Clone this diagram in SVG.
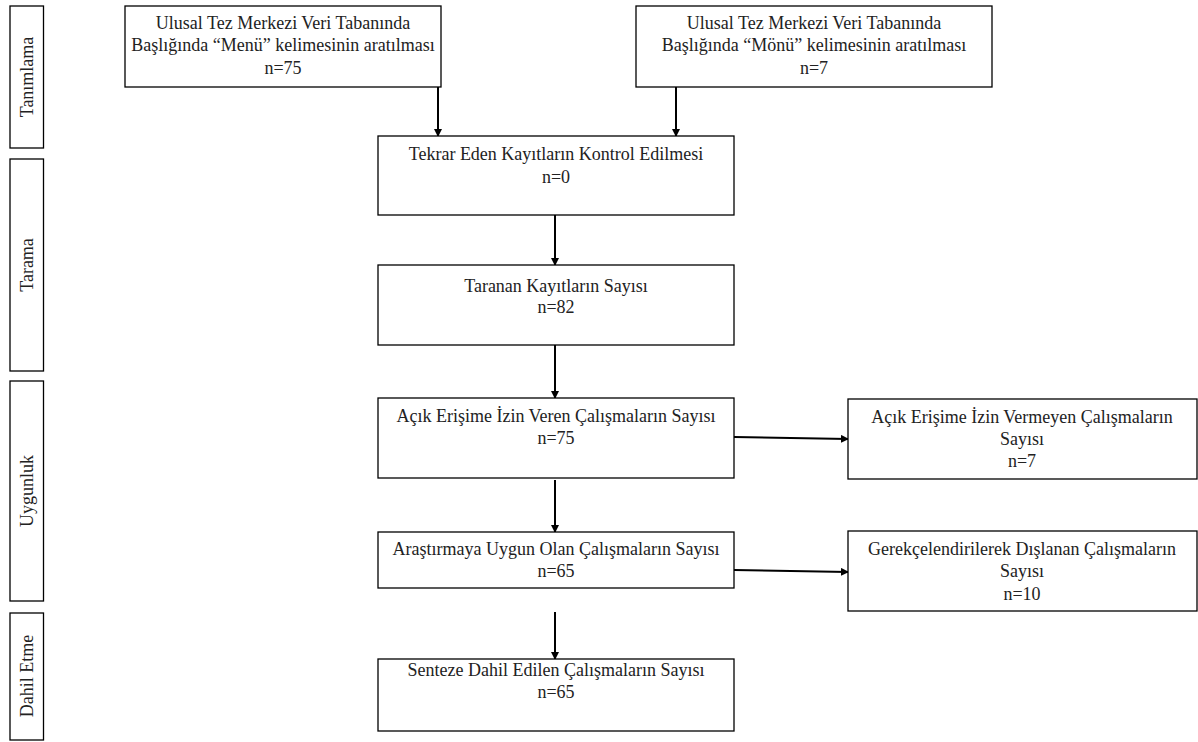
<svg xmlns="http://www.w3.org/2000/svg" width="1198" height="742" viewBox="0 0 1198 742">
<defs>
<marker id="ah" markerWidth="8" markerHeight="8" refX="7" refY="4" orient="auto" markerUnits="userSpaceOnUse">
<path d="M0,0 L8,4 L0,8 Z" fill="#000"/>
</marker>
<style>
.box{fill:#fff;stroke:#000;stroke-width:1.3}
.t{font-family:"Liberation Serif","DejaVu Serif",serif;font-size:18px;fill:#222;text-anchor:middle}
.c{stroke:#000;stroke-width:2;fill:none;marker-end:url(#ah)}
</style>
</defs>
<rect width="1198" height="742" fill="#fff"/>
<g id="phase-tanimlama"><rect class="box" x="10" y="6" width="33.5" height="142"/><text class="t" transform="translate(33,77) rotate(-90)">Tanımlama</text></g>
<g id="phase-tarama"><rect class="box" x="10" y="159" width="33.5" height="212"/><text class="t" transform="translate(33,265) rotate(-90)">Tarama</text></g>
<g id="phase-uygunluk"><rect class="box" x="10" y="381" width="33.5" height="220"/><text class="t" transform="translate(33,491) rotate(-90)">Uygunluk</text></g>
<g id="phase-dahil"><rect class="box" x="10" y="613" width="33.5" height="127"/><text class="t" transform="translate(33,676) rotate(-90)">Dahil Etme</text></g>

<g id="connectors">
<line class="c" x1="438" y1="87" x2="438" y2="136"/>
<line class="c" x1="676" y1="87" x2="676" y2="136"/>
<line class="c" x1="555" y1="215" x2="555" y2="265"/>
<line class="c" x1="555" y1="345" x2="555" y2="398"/>
<line class="c" x1="555" y1="480" x2="555" y2="532"/>
<line class="c" x1="555" y1="612" x2="555" y2="659"/>
<line class="c" x1="734" y1="437" x2="848" y2="439"/>
<line class="c" x1="734" y1="570" x2="848" y2="572"/>
</g>

<g id="n-menu"><rect class="box" x="125" y="6" width="316" height="81"/>
<text class="t" x="283" y="29">Ulusal Tez Merkezi Veri Tabanında</text>
<text class="t" x="283" y="51">Başlığında “Menü” kelimesinin aratılması</text>
<text class="t" x="283" y="74">n=75</text></g>
<g id="n-monu"><rect class="box" x="636" y="6" width="356" height="81"/>
<text class="t" x="814" y="29">Ulusal Tez Merkezi Veri Tabanında</text>
<text class="t" x="814" y="51">Başlığında “Mönü” kelimesinin aratılması</text>
<text class="t" x="814" y="74">n=7</text></g>
<g id="n-tekrar"><rect class="box" x="378" y="136" width="356" height="79"/>
<text class="t" x="556" y="160">Tekrar Eden Kayıtların Kontrol Edilmesi</text>
<text class="t" x="556" y="183">n=0</text></g>
<g id="n-taranan"><rect class="box" x="378" y="265" width="356" height="80"/>
<text class="t" x="556" y="292">Taranan Kayıtların Sayısı</text>
<text class="t" x="556" y="313">n=82</text></g>
<g id="n-acik"><rect class="box" x="378" y="398" width="356" height="80"/>
<text class="t" x="556" y="422">Açık Erişime İzin Veren Çalışmaların Sayısı</text>
<text class="t" x="556" y="444">n=75</text></g>
<g id="n-acik-degil"><rect class="box" x="848" y="399" width="349" height="80"/>
<text class="t" x="1022" y="423">Açık Erişime İzin Vermeyen Çalışmaların</text>
<text class="t" x="1022" y="445">Sayısı</text>
<text class="t" x="1022" y="467">n=7</text></g>
<g id="n-uygun"><rect class="box" x="378" y="532" width="356" height="56"/>
<text class="t" x="556" y="555">Araştırmaya Uygun Olan Çalışmaların Sayısı</text>
<text class="t" x="556" y="577">n=65</text></g>
<g id="n-dislanan"><rect class="box" x="848" y="531" width="349" height="80"/>
<text class="t" x="1022" y="555">Gerekçelendirilerek Dışlanan Çalışmaların</text>
<text class="t" x="1022" y="577">Sayısı</text>
<text class="t" x="1022" y="600">n=10</text></g>
<g id="n-sentez"><rect class="box" x="378" y="659" width="356" height="72"/>
<text class="t" x="556" y="676">Senteze Dahil Edilen Çalışmaların Sayısı</text>
<text class="t" x="556" y="698">n=65</text></g>
</svg>
